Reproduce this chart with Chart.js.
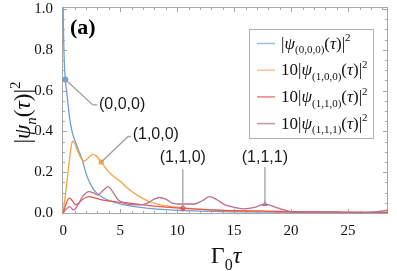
<!DOCTYPE html>
<html><head><meta charset="utf-8">
<script src="https://cdn.jsdelivr.net/npm/chart.js@4/dist/chart.umd.min.js"></script>
<style>html,body{margin:0;padding:0;background:#fff}#wrap{width:397px;height:271px;position:relative}</style>
</head><body><div id="wrap"><canvas id="c" width="397" height="271"></canvas></div>
<script>
// ---- data ----
const tau000 = [0, 0.04, 0.1, 0.19, 0.33, 0.57, 0.8, 1.0, 1.3, 1.68, 1.9, 2.2, 2.6, 2.9, 3.5, 4.0, 5.0, 6.0, 7.0, 8.0, 9.0, 10, 12, 15, 20, 25, 28.5];
const psi000 = [1.0, 0.86, 0.74, 0.655, 0.585, 0.465, 0.395, 0.36, 0.315, 0.26, 0.215, 0.165, 0.122, 0.10, 0.075, 0.062, 0.045, 0.034, 0.026, 0.02, 0.016, 0.013, 0.009, 0.006, 0.004, 0.003, 0.002];

const tau100 = [0, 0.2, 0.42, 0.66, 0.82, 1.0, 1.3, 1.6, 1.85, 2.2, 2.6, 2.9, 3.35, 3.8, 4.3, 5.0, 5.8, 6.7, 7.6, 8.5, 9.5, 10.5, 12, 14, 16, 18, 20, 24, 28.5];
const psi100 = [0, 0.09, 0.195, 0.31, 0.352, 0.342, 0.30, 0.265, 0.255, 0.27, 0.287, 0.28, 0.25, 0.215, 0.185, 0.155, 0.115, 0.08, 0.055, 0.04, 0.031, 0.025, 0.019, 0.013, 0.01, 0.008, 0.006, 0.004, 0.003];

const tau110 = [0, 0.2, 0.4, 0.57, 0.8, 1.1, 1.4, 1.7, 2.0, 2.3, 2.7, 3.2, 4.1, 5, 6, 7, 8, 9, 10.5, 12, 14, 16, 18, 20, 24, 28.5];
const psi110 = [0, 0.035, 0.065, 0.073, 0.06, 0.04, 0.05, 0.066, 0.076, 0.08, 0.075, 0.067, 0.058, 0.053, 0.047, 0.04, 0.034, 0.029, 0.023, 0.018, 0.013, 0.01, 0.008, 0.006, 0.004, 0.003];

const tau111 = [0, 0.3, 0.57, 0.92, 1.3, 1.7, 2.27, 2.7, 3.05, 3.5, 3.93, 4.4, 4.8, 5.3, 5.8, 6.5, 7.3, 7.9, 8.45, 9.0, 9.5, 10.5, 11.5, 12.2, 12.85, 13.5, 14.2, 15, 15.9, 16.8, 17.7, 18.8, 19.6, 20.3, 21, 22, 22.8, 23.5, 24.5, 25.5, 26.5, 27.3, 28, 28.5];
const psi111 = [0, 0.02, 0.031, 0.015, 0.04, 0.08, 0.105, 0.097, 0.088, 0.11, 0.129, 0.1, 0.066, 0.05, 0.042, 0.04, 0.046, 0.065, 0.076, 0.068, 0.05, 0.044, 0.044, 0.06, 0.08, 0.065, 0.04, 0.028, 0.02, 0.028, 0.043, 0.025, 0.012, 0.003, 0.003, 0.007, 0.004, 0.005, 0.002, 0.002, 0.002, 0.004, 0.01, 0.015];

const xTickVals = [0, 5, 10, 15, 20, 25];
const yTickVals = [0, 0.2, 0.4, 0.6, 0.8, 1.0];

const markerNames = ["(0,0,0)", "(1,0,0)", "(1,1,0)", "(1,1,1)"];
const markerTau = [0.19, 3.35, 10.5, 17.7];
const markerVal = [0.655, 0.25, 0.023, 0.043];

// ---- styles ----
const colors = ["#6f9fd3", "#f5a442", "#ef5555", "#bd6e93"];
const legendColors = ["#9dbde3", "#f9c88a", "#f38080", "#c995ad"];
const pointStyles = ["circle", "rect", "rectRot", "triangle"];
const calloutPaths = [
  [[2.6, 0.53], [3.0, 0.53]],
  [[5.7, 0.375], [5.95, 0.375]],
  [[10.5, 0.215]],
  [[17.7, 0.225]]
];
const calloutText = [[3.15, 0.53, "left"], [6.1, 0.383, "left"], [10.5, 0.27, "center"], [17.7, 0.27, "center"]];

const pairs = (t, v) => t.map((x, i) => ({x: x, y: v[i]}));
const series = [[tau000, psi000], [tau100, psi100], [tau110, psi110], [tau111, psi111]];

const datasets = series.map((s, i) => ({
  data: pairs(s[0], s[1]), borderColor: colors[i], borderWidth: 1.3,
  pointRadius: 0, cubicInterpolationMode: 'monotone', fill: false, order: 5 - i
}));
markerTau.forEach((t, i) => datasets.push({
  type: 'scatter', data: [{x: t, y: markerVal[i]}], pointStyle: pointStyles[i],
  pointRadius: i === 0 ? 3 : 3.5, backgroundColor: colors[i], borderColor: colors[i], borderWidth: 0, order: 0
}));

const SERIF = '"Liberation Serif"';
const SANS = '"Liberation Sans"';

function fontFor(k, size, fam) {
  const small = Math.round(size * 0.66);
  if (k === 'i') return `italic ${size}px ${fam}`;
  if (k === 's') return `${small}px ${fam}`;
  if (k === 'si') return `italic ${small}px ${fam}`;
  if (k === 'p') return `${small}px ${fam}`;
  return `${size}px ${fam}`;
}
function richWidth(ctx, parts, size, fam) {
  let w = 0;
  for (const [t, k] of parts) { ctx.font = fontFor(k, size, fam); w += ctx.measureText(t).width; }
  return w;
}
function drawRich(ctx, parts, x, y, size, fam, align) {
  const w = richWidth(ctx, parts, size, fam);
  let cx = align === 'center' ? x - w / 2 : x;
  ctx.textBaseline = 'alphabetic'; ctx.textAlign = 'left';
  for (const [t, k] of parts) {
    ctx.font = fontFor(k, size, fam);
    let dy = 0;
    if (k === 's' || k === 'si') dy = size * 0.28;
    if (k === 'p') dy = -size * 0.42;
    ctx.fillText(t, cx, y + dy);
    cx += ctx.measureText(t).width;
  }
}

const legendParts = [
  [["|", 'n'], ["ψ", 'i'], ["(0,0,0)", 's'], ["(", 'n'], ["τ", 'i'], [")|", 'n'], ["2", 'p']],
  [["10|", 'n'], ["ψ", 'i'], ["(1,0,0)", 's'], ["(", 'n'], ["τ", 'i'], [")|", 'n'], ["2", 'p']],
  [["10|", 'n'], ["ψ", 'i'], ["(1,1,0)", 's'], ["(", 'n'], ["τ", 'i'], [")|", 'n'], ["2", 'p']],
  [["10|", 'n'], ["ψ", 'i'], ["(1,1,1)", 's'], ["(", 'n'], ["τ", 'i'], [")|", 'n'], ["2", 'p']]
];

const decor = {
  id: 'decor',
  beforeDatasetsDraw(chart) {
    const {ctx, chartArea: a, scales: {x, y}} = chart;
    ctx.save();
    ctx.strokeStyle = '#a8a8a8'; ctx.lineWidth = 1;
    ctx.strokeRect(a.left + 0.5, a.top + 0.5, a.right - a.left - 1, a.bottom - a.top - 1);
    ctx.beginPath();
    for (let v = 0; v <= 28; v += 1) {
      const px = Math.round(x.getPixelForValue(v)) + 0.5;
      const L = v % 5 === 0 ? 5 : 3;
      ctx.moveTo(px, a.bottom); ctx.lineTo(px, a.bottom - L);
      ctx.moveTo(px, a.top); ctx.lineTo(px, a.top + L);
    }
    for (let k = 0; k <= 20; k++) {
      const v = k * 0.05;
      const py = Math.round(y.getPixelForValue(v)) + 0.5;
      const L = k % 4 === 0 ? 5 : 3;
      ctx.moveTo(a.left, py); ctx.lineTo(a.left + L, py);
      ctx.moveTo(a.right, py); ctx.lineTo(a.right - L, py);
    }
    ctx.stroke();
    ctx.restore();
  },
  afterDatasetsDraw(chart) {
    const {ctx, chartArea: a, scales: {x, y}} = chart;
    ctx.save();
    ctx.strokeStyle = '#a0a0a0'; ctx.lineWidth = 1.3;
    markerTau.forEach((t, i) => {
      ctx.beginPath();
      ctx.moveTo(x.getPixelForValue(t), y.getPixelForValue(markerVal[i]));
      for (const [px, py] of calloutPaths[i]) ctx.lineTo(x.getPixelForValue(px), y.getPixelForValue(py));
      ctx.stroke();
      const [lx, ly, al] = calloutText[i];
      ctx.fillStyle = '#1a1a1a'; ctx.font = `16px ${SANS}`;
      ctx.textAlign = al; ctx.textBaseline = 'middle';
      ctx.fillText(markerNames[i], x.getPixelForValue(lx), y.getPixelForValue(ly));
    });
    ctx.fillStyle = '#000'; ctx.font = `bold 22px ${SERIF}`; ctx.textAlign = 'left'; ctx.textBaseline = 'alphabetic';
    ctx.fillText('(a)', a.left + 8, a.top + 27);
    const bx = 249, by = 29, bw = 124, bh = 109;
    ctx.fillStyle = '#fff'; ctx.fillRect(bx, by, bw, bh);
    ctx.strokeStyle = '#b0b0b0'; ctx.lineWidth = 1; ctx.strokeRect(bx + 0.5, by + 0.5, bw, bh);
    legendParts.forEach((p, i) => {
      const cy = by + 14.5 + i * 26.7;
      ctx.strokeStyle = legendColors[i]; ctx.lineWidth = 1.5;
      ctx.beginPath(); ctx.moveTo(bx + 8, cy); ctx.lineTo(bx + 26, cy); ctx.stroke();
      ctx.fillStyle = '#111';
      drawRich(ctx, p, bx + 32, cy + 5, 17, SERIF, 'left');
    });
    ctx.fillStyle = '#111';
    drawRich(ctx, [["Γ", 'n'], ["0", 's'], ["τ", 'i']], (a.left + a.right) / 2 + 1, 263, 24, SERIF, 'center');
    ctx.save();
    ctx.translate(30, (a.top + a.bottom) / 2 + 2);
    ctx.rotate(-Math.PI / 2);
    drawRich(ctx, [["|", 'n'], ["ψ", 'i'], ["n", 'si'], ["(", 'n'], ["τ", 'i'], [")|", 'n'], ["2", 'p']], 0, 0, 23, SERIF, 'center');
    ctx.restore();
    ctx.restore();
  }
};

new Chart(document.getElementById('c'), {
  type: 'line',
  data: {datasets},
  options: {
    responsive: false, animation: false, devicePixelRatio: 1,
    layout: {padding: {left: 0, top: 7, right: 9, bottom: 0}},
    plugins: {legend: {display: false}, tooltip: {enabled: false}},
    scales: {
      x: {
        type: 'linear', min: -0.1, max: 28.5,
        grid: {display: false, drawTicks: false}, border: {display: false},
        afterBuildTicks: s => { s.ticks = xTickVals.map(v => ({value: v})); },
        afterFit: s => { s.height = 57; s.paddingLeft = 0; s.paddingRight = 0; },
        ticks: {color: '#111', font: {family: SERIF, size: 15}, padding: 8, maxRotation: 0,
                callback: v => String(v)}
      },
      y: {
        type: 'linear', min: -0.005, max: 1.01,
        grid: {display: false, drawTicks: false}, border: {display: false},
        afterBuildTicks: s => { s.ticks = yTickVals.map(v => ({value: v})); },
        afterFit: s => { s.width = 62; s.paddingTop = 0; s.paddingBottom = 0; },
        ticks: {color: '#111', font: {family: SERIF, size: 15}, padding: 9,
                callback: v => Number(v).toFixed(1)}
      }
    }
  },
  plugins: [decor]
});
</script>
</body></html>
